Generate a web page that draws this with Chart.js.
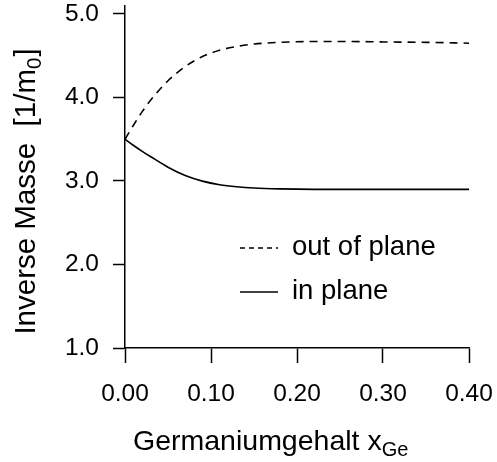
<!DOCTYPE html>
<html>
<head>
	<meta charset="utf-8">
	<title>Inverse Masse</title>
	<style>
		html, body { margin: 0; padding: 0; background: #fff; }
		.wrap { width: 497px; height: 462px; }
	</style>
</head>
<body>
	<div class="wrap"><canvas id="chart" width="497" height="462"></canvas></div>
	<script src="https://cdn.jsdelivr.net/npm/chart.js@4/dist/chart.umd.min.js"></script>
	<script>
		'use strict'

		// x_Ge sample points
		const xGe = [0, 0.01, 0.02, 0.03, 0.05, 0.07, 0.09, 0.11, 0.13, 0.15, 0.18, 0.22, 0.26, 0.30, 0.35, 0.40]
		const outOfPlane = [3.50, 3.67, 3.83, 3.97, 4.20, 4.37, 4.49, 4.565, 4.61, 4.64, 4.66, 4.67, 4.67, 4.665, 4.66, 4.65]
		const inPlane = [3.50, 3.425, 3.355, 3.29, 3.165, 3.065, 2.998, 2.955, 2.93, 2.915, 2.905, 2.90, 2.90, 2.90, 2.90, 2.90]
		const seriesLabels = ['out of plane', 'in plane']
		const xTicks = [0, 0.1, 0.2, 0.3, 0.4]
		const yTicks = [1, 2, 3, 4, 5]

		const FONT = "'Liberation Sans', Arial, Helvetica, sans-serif"
		const ink = '#000'

		const toPoints = ys => xGe.map((x, i) => ({ x, y: ys[i] }))

		// text with a lowered small part, e.g. x_Ge
		function subText(ctx, parts, x, y, size, subSize) {
			let cx = x
			parts.forEach(([txt, sub]) => {
				ctx.font = (sub ? subSize : size) + 'px ' + FONT
				ctx.fillText(txt, cx, sub ? y + size * 0.22 : y)
				cx += ctx.measureText(txt).width + (sub ? 1 : 0)
			})
			return cx - x
		}
		function subWidth(ctx, parts, size, subSize) {
			let w = 0
			parts.forEach(([txt, sub]) => {
				ctx.font = (sub ? subSize : size) + 'px ' + FONT
				w += ctx.measureText(txt).width + (sub ? 1 : 0)
			})
			return w
		}

		// legend + axis titles drawn by hand
		const decor = {
			id: 'decor',
			afterDraw(chart) {
				const ctx = chart.ctx
				const a = chart.chartArea
				ctx.save()
				ctx.fillStyle = ink
				ctx.strokeStyle = ink

				// legend
				const lx = a.left + 115, ly = [a.top + 242.4, a.top + 286.4]
				chart.data.datasets.forEach((ds, i) => {
					ctx.lineWidth = 1.3
					ctx.setLineDash(ds.borderDash && ds.borderDash.length ? [5, 4] : [])
					ctx.beginPath()
					ctx.moveTo(lx, ly[i])
					ctx.lineTo(lx + 38, ly[i])
					ctx.stroke()
					ctx.setLineDash([])
					ctx.font = '27.5px ' + FONT
					ctx.textBaseline = 'alphabetic'
					ctx.textAlign = 'left'
					ctx.fillText(ds.label, lx + 52, ly[i] + 6.5)
				})

				// x title
				ctx.textBaseline = 'alphabetic'
				subText(ctx, [['Germaniumgehalt x', false], ['Ge', true]], 133, 450, 28.5, 20)

				// y title
				const yParts = [['Inverse Masse  [1/m', false], ['0', true], [']', false]]
				const tw = subWidth(ctx, yParts, 29.5, 20.5)
				ctx.translate(35, 0)
				ctx.rotate(-Math.PI / 2)
				subText(ctx, yParts, -191.5 - tw / 2, 0, 29.5, 20.5)
				ctx.restore()
			}
		}

		new Chart(document.getElementById('chart'), {
			type: 'line',
			data: {
				datasets: [{
					label: seriesLabels[0],
					data: toPoints(outOfPlane),
					borderColor: ink,
					borderWidth: 1.6,
					borderDash: [8, 6],
					pointRadius: 0,
					cubicInterpolationMode: 'monotone',
					fill: false
				}, {
					label: seriesLabels[1],
					data: toPoints(inPlane),
					borderColor: ink,
					borderWidth: 1.6,
					pointRadius: 0,
					cubicInterpolationMode: 'monotone',
					fill: false
				}]
			},
			options: {
				responsive: false,
				animation: false,
				events: [],
				layout: { padding: { top: 5.6, right: 28, left: 0, bottom: 0 } },
				plugins: { legend: { display: false }, tooltip: { enabled: false }, title: { display: false } },
				scales: {
					x: {
						type: 'linear',
						min: 0,
						max: 0.4,
						afterBuildTicks: s => { s.ticks = xTicks.map(v => ({ value: v })) },
						afterFit: s => { s.height = 114; s.paddingLeft = 0; s.paddingRight = 0 },
						grid: { drawOnChartArea: false, drawTicks: true, tickLength: 15, tickWidth: 1.5, tickColor: ink },
						border: { display: true, color: ink, width: 1.5 },
						ticks: {
							color: ink,
							padding: 17,
							maxRotation: 0,
							font: { family: FONT, size: 24.5 },
							callback: v => Number(v).toFixed(2)
						}
					},
					y: {
						type: 'linear',
						min: 1,
						max: 5.1,
						afterBuildTicks: s => { s.ticks = yTicks.map(v => ({ value: v })) },
						afterFit: s => { s.width = 125; s.paddingTop = 0; s.paddingBottom = 0 },
						grid: { drawOnChartArea: false, drawTicks: true, tickLength: 12, tickWidth: 1.5, tickColor: ink },
						border: { display: true, color: ink, width: 1.5 },
						ticks: {
							color: ink,
							padding: 14,
							font: { family: FONT, size: 24.5 },
							callback: v => Number(v).toFixed(1)
						}
					}
				}
			},
			plugins: [decor]
		})
	</script>
</body>
</html>
